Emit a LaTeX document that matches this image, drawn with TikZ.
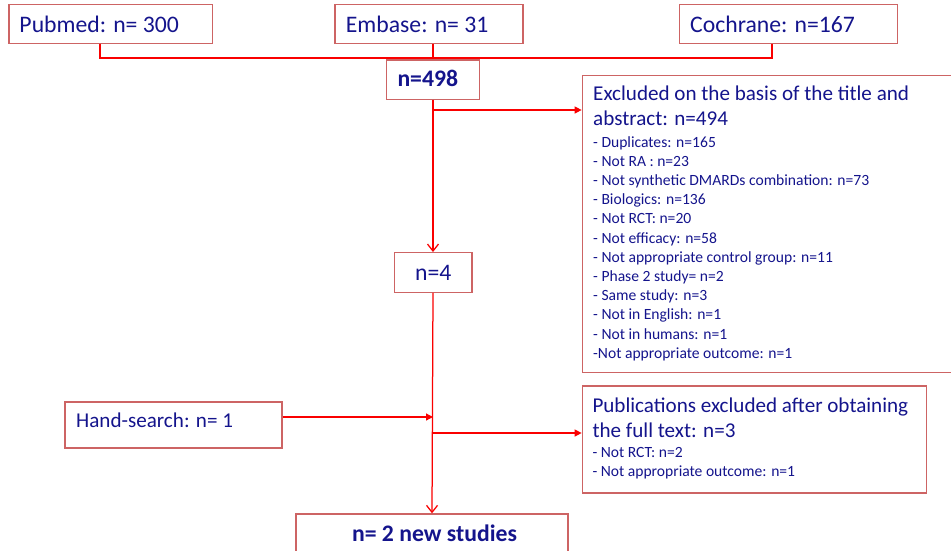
\documentclass[tikz,border=0pt]{standalone}
\usepackage{fontspec}
\setmainfont{Carlito}
\usetikzlibrary{arrows.meta}
\definecolor{txtc}{RGB}{20,20,140}
\definecolor{boxc}{RGB}{205,100,100}
\definecolor{lnc}{RGB}{250,0,0}
\newcommand\fsbig{\fontsize{23.7}{28}\selectfont}
\newcommand\fsmid{\fontsize{21.1}{25}\selectfont}
\newcommand\fssmall{\fontsize{15.6}{19}\selectfont}
\tikzset{
  box/.style={draw=boxc, line width=1.3pt, inner sep=0pt, rectangle},
  txt/.style={text=txtc, inner sep=0pt, anchor=base west},
  ln/.style={draw=lnc, line width=1.25pt},
  fillarr/.style={-{Triangle[length=7pt,width=7pt]}},
  openarr/.style={-{Straight Barb[length=7pt,width=11pt]}},
}
\begin{document}
\begin{tikzpicture}[x=1pt,y=-1pt]
\useasboundingbox (0,0) rectangle (951,550);
% boxes
\node[box, minimum width=203.7pt, minimum height=38.6pt] (pub) at (110.85,24) {};
\node[box, minimum width=188pt, minimum height=38.6pt] (emb) at (429,24) {};
\node[box, minimum width=218pt, minimum height=38.6pt] (coc) at (788.3,24) {};
\node[box, minimum width=92.6pt, minimum height=39.3pt] (n498) at (433,79.65) {};
\node[box, minimum width=377.7pt, minimum height=296.6pt] (exc) at (771.15,224) {};
\node[box, minimum width=77.7pt, minimum height=39.6pt] (n4) at (433,272.5) {};
\node[box, minimum width=217pt, minimum height=46pt] (hand) at (173.5,425) {};
\node[box, minimum width=344.4pt, minimum height=107pt] (pubx) at (754.5,439.5) {};
\node[box, minimum width=272pt, minimum height=51pt] (fin) at (432,539.5) {};
% texts
\node[txt] (pubt) at (19.3,32.3) {\fsbig Pubmed: n= 300};
\node[txt] (embt) at (345.7,32.3) {\fsbig Embase: n= 31};
\node[txt] (coct) at (690,32.3) {\fsbig Cochrane: n=167};
\node[txt] (n498t) at (397.3,86.7) {\fsbig\bfseries n=498};
\node[txt, anchor=base] (n4t) at (433.3,280) {\fsbig n=4};
\node[txt] (exct1) at (593,100) {\fsmid Excluded on the basis of the title and};
\node[txt] (exct2) at (593,125.7) {\fsmid abstract: n=494};
\foreach \t [count=\i] in {- Duplicates: n=165, - Not RA : n=23, - Not synthetic DMARDs combination: n=73, - Biologics: n=136, - Not RCT: n=20, - Not efficacy: n=58, - Not appropriate control group: n=11, - Phase 2 study= n=2, - Same study: n=3, - Not in English: n=1, - Not in humans: n=1, -Not appropriate outcome: n=1}
  \node[txt] (exi\i) at (593,{147+19.2*(\i-1)}) {\fssmall \t};
\node[txt] (handt) at (76,427.7) {\fsmid Hand-search: n= 1};
\node[txt] (pubxt1) at (592.3,412.7) {\fsmid Publications excluded after obtaining};
\node[txt] (pubxt2) at (592.3,437.3) {\fsmid the full text: n=3};
\node[txt] (pubxi1) at (592.3,457.3) {\fssmall - Not RCT: n=2};
\node[txt] (pubxi2) at (592.3,476) {\fssmall - Not appropriate outcome: n=1};
\node[txt, anchor=base] (fint) at (434.5,541) {\fsbig\bfseries n= 2 new studies};
% connectors
\coordinate (jl) at (100,58);
\coordinate (jr) at (772,58);
\draw[ln] (pub.south -| jl) -- (jl) -- (jr) -- (coc.south -| jr);
\draw[ln] (emb.south -| n498.north) -- (n498.north);
\draw[ln, openarr] (n498.south) -- (n4.north);
\coordinate (b1) at (433,110);
\draw[ln, fillarr] (b1) -- (b1 -| exc.west);
\draw[ln, openarr] (n4.south) -- (fin.north);
\coordinate (ha) at (433,417);
\draw[ln, fillarr] (hand.east |- ha) -- (ha);
\coordinate (b2) at (433,433);
\draw[ln, fillarr] (b2) -- (b2 -| pubx.west);
\end{tikzpicture}
\end{document}
